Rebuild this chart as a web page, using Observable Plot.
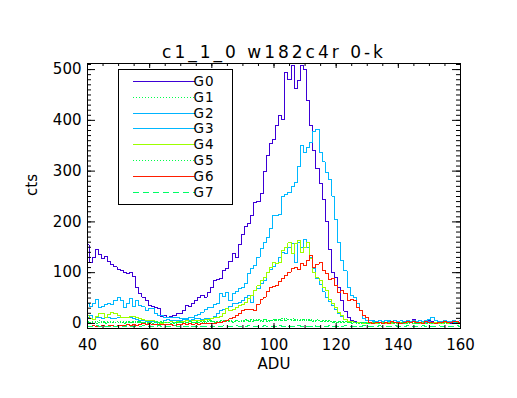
<!DOCTYPE html>
<html><head><meta charset="utf-8">
<script src="https://cdn.jsdelivr.net/npm/d3@7"></script>
<script src="https://cdn.jsdelivr.net/npm/@observablehq/plot@0.6"></script>
<style>
html,body{margin:0;padding:0;background:#fff;}
#chart svg{display:block;}
</style></head><body><div id="chart"></div>
<script>
const title = "c1_1_0 w182c4r 0-k";
const xLabel = "ADU";
const yLabel = "cts";
const xTicks = [40, 60, 80, 100, 120, 140, 160];
const yTicks = [0, 100, 200, 300, 400, 500];
const seriesNames = ["G0", "G1", "G2", "G3", "G4", "G5", "G6", "G7"];

const adu = [40,41,42,43,44,45,46,47,48,49,50,51,52,53,54,55,56,57,58,59,
60,61,62,63,64,65,66,67,68,69,70,71,72,73,74,75,76,77,78,79,
80,81,82,83,84,85,86,87,88,89,90,91,92,93,94,95,96,97,98,99,
100,101,102,103,104,105,106,107,108,109,110,111,112,113,114,115,116,117,118,119,
120,121,122,123,124,125,126,127,128,129,130,131,132,133,134,135,136,137,138,139,
140,141,142,143,144,145,146,147,148,149,150,151,152,153,154,155,156,157,158,159,160];

const g0 = [155,120,130,145,135,128,132,122,116,112,
106,104,100,98,100,92,70,58,52,45,
36,33,31,30,14,15,11,14,16,19,
20,25,35,33,40,46,52,55,52,60,
70,84,86,88,104,108,122,137,130,155,
175,190,196,212,238,240,255,300,330,355,
362,390,410,402,495,480,508,462,478,508,
500,440,390,340,305,275,245,200,145,100,
90,70,45,24,12,6,3,2,1,0,
1,0,-1,2,1,0,2,1,3,1,
0,2,1,3,2,8,2,1,3,2,
5,3,1,2,0,1,2,0,1,2,1];

const g1 = [2,1,3,0,2,4,1,3,2,1,
3,2,0,4,1,2,3,1,2,0,
1,3,2,0,1,2,1,3,0,2,
1,0,2,3,1,2,4,2,3,5,
3,4,2,5,3,6,4,3,5,4,
6,5,4,7,5,6,4,8,5,6,
7,5,8,6,9,7,5,8,6,7,
5,8,6,4,7,5,3,6,4,2,
3,2,4,1,2,0,1,2,0,1,
0,1,2,0,1,0,2,1,0,1,
2,0,1,0,1,2,0,1,0,1,
0,1,2,0,1,0,1,0,1,0,1];

const g2 = [12,15,8,11,11,9,11,11,9,10,
11,11,12,12,11,9,7,6,5,4,
4,3,2,1,0,5,7,5,6,5,
6,7,7,6,8,9,9,8,9,9,
10,14,20,25,27,29,33,39,40,41,
45,52,55,42,64,68,78,85,101,106,
112,118,130,140,137,150,157,120,159,150,
166,150,130,108,88,76,62,52,44,36,
28,20,13,8,4,3,2,2,1,1,
2,1,3,2,1,2,1,3,2,1,
2,1,2,3,1,4,2,1,2,1,
3,2,1,2,1,2,1,3,2,1,2];

const g3 = [39,33,39,47,31,33,37,39,38,45,
52,45,31,39,49,33,45,36,33,25,
29,29,19,15,15,11,11,12,11,11,
10,9,9,11,11,15,18,22,27,32,
32,37,40,59,53,61,45,59,62,68,
71,78,98,108,114,130,147,160,169,186,
212,212,215,250,254,258,270,278,310,350,
337,346,356,378,382,336,318,298,284,251,
205,160,124,104,70,55,52,40,25,10,
6,5,5,4,5,4,5,6,4,5,
4,5,3,5,4,6,4,5,3,6,
8,12,6,4,3,5,4,3,5,4,5];

const g4 = [15,10,8,14,19,20,12,18,22,20,
15,12,11,12,14,13,12,10,7,6,
5,5,3,2,0,1,2,3,2,3,
3,4,5,4,5,5,6,6,7,7,
9,11,12,14,20,29,25,28,32,35,
38,41,49,55,65,74,85,91,101,110,
120,118,120,143,150,159,137,157,163,140,
150,159,127,101,90,84,70,65,48,40,
32,22,15,8,3,3,2,1,1,0,
1,0,1,0,2,1,0,1,0,1,
0,1,0,2,1,0,1,0,1,0,
1,0,1,0,0,1,0,1,0,1,0];

const g5 = [4,2,1,3,5,2,0,2,3,1,
1,3,2,1,2,4,2,3,1,2,
2,0,3,1,3,1,2,0,2,1,
3,2,1,4,2,3,1,3,2,4,
5,2,4,3,6,4,5,2,6,3,
4,7,5,3,6,8,5,7,4,6,
5,8,6,10,6,8,9,6,7,5,
8,6,7,5,6,4,6,3,5,3,
2,4,2,3,1,2,1,0,2,1,
1,0,1,2,0,1,1,0,2,0,
1,2,0,1,1,0,2,0,1,0,
1,0,0,2,0,1,0,1,0,1,0];

const g6 = [-6,-6,-5,-6,-6,-5,-6,-5,-5,-6,
-4,-5,-4,-3,-4,-3,-4,-2,0,-2,
-1,-2,-3,-2,-3,-2,-3,-2,-4,-3,
-2,-1,-2,-1,-2,-1,-2,0,-1,0,
0,-1,1,2,4,6,9,12,15,20,
25,27,27,28,26,38,48,52,62,70,
73,74,82,88,94,101,108,110,107,118,
114,124,133,110,117,120,104,98,86,88,
74,61,64,59,45,48,45,32,25,15,
12,2,0,2,1,-1,2,0,3,1,
2,0,1,3,1,4,1,2,0,3,
2,1,0,2,1,3,1,2,4,3,2];

const g7 = [-6,-7,-6,-5,-6,-7,-6,-6,-5,-7,
-6,-6,-7,-5,-6,-6,-7,-6,-5,-6,
-7,-6,-6,-5,-7,-6,-6,-7,-5,-6,
-6,-7,-6,-5,-6,-6,-7,-6,-6,-5,
-6,-7,-6,-6,-5,-6,-7,-6,-5,-6,
-6,-7,-5,-6,-6,-7,-6,-5,-6,-6,
-7,-6,-5,-6,-6,-7,-6,-6,-5,-6,
-7,-6,-6,-5,-6,-7,-6,-6,-5,-6,
-6,-7,-6,-5,-6,-6,-7,-6,-6,-5,
-6,-7,-6,-6,-5,-6,-7,-6,-6,-5,
-6,-6,-7,-5,-6,-6,-7,-6,-5,-6,
-6,-7,-6,-5,-6,-6,-7,-6,-6,-5,-6];

const seriesValues = [g0, g1, g2, g3, g4, g5, g6, g7];
const seriesColors = ["#3d00d6", "#00ff4a", "#00b4ff", "#00b8ff", "#9cff00", "#00ff4a", "#ff1e00", "#00ff66"];
const seriesDash = [null, "1,2", null, null, null, "1,2", null, "6,4"];

const W = 517, H = 398;
const margin = {top: 63, right: 57, bottom: 70, left: 87};
const innerW = W - margin.left - margin.right;
const innerH = H - margin.top - margin.bottom;
const xMinor = d3.range(40, 161, 5);
const yMinor = d3.range(-10, 512, 10);
const majorX = 5, minorX = 3, majorY = 8, minorY = 4;

const lineMarks = seriesValues.map((vals, s) =>
  Plot.line(adu.map((x, i) => ({x, y: vals[i]})), {
    x: "x", y: "y", curve: "step",
    stroke: seriesColors[s], strokeWidth: 1,
    strokeDasharray: seriesDash[s] || undefined,
    clip: true
  })
);

const plot = Plot.plot({
  width: W, height: H,
  marginTop: margin.top, marginRight: margin.right, marginBottom: margin.bottom, marginLeft: margin.left,
  x: {domain: [40, 160]},
  y: {domain: [-10, 512]},
  style: {fontFamily: "'DejaVu Sans', sans-serif", fontSize: "15px", background: "white", color: "black"},
  marks: [
    ...lineMarks,
    Plot.ruleX(xTicks, {x: d => d, insetTop: innerH - majorX, stroke: "black"}),
    Plot.ruleX(xMinor, {x: d => d, insetTop: innerH - minorX, stroke: "black"}),
    Plot.ruleX(xTicks, {x: d => d, insetBottom: innerH - majorX, stroke: "black"}),
    Plot.ruleX(xMinor, {x: d => d, insetBottom: innerH - minorX, stroke: "black"}),
    Plot.ruleY(yTicks, {y: d => d, insetRight: innerW - majorY, stroke: "black"}),
    Plot.ruleY(yMinor, {y: d => d, insetRight: innerW - minorY, stroke: "black"}),
    Plot.ruleY(yTicks, {y: d => d, insetLeft: innerW - majorY, stroke: "black"}),
    Plot.ruleY(yMinor, {y: d => d, insetLeft: innerW - minorY, stroke: "black"}),
    Plot.frame({stroke: "black"}),
    Plot.axisX(xTicks, {anchor: "bottom", tickSize: 0, tickPadding: 11, fontSize: 15, label: null}),
    Plot.axisY(yTicks, {anchor: "left", tickSize: 0, tickPadding: 6, fontSize: 15, label: null}),
    Plot.text([xLabel], {frameAnchor: "bottom", dy: 40, fontSize: 15, text: d => d}),
    Plot.text([yLabel], {frameAnchor: "left", dx: -55, rotate: -90, fontSize: 15, text: d => d}),
    Plot.text([title], {frameAnchor: "top", dy: -18, fontSize: 17, text: d => d})
  ]
});

document.getElementById("chart").appendChild(plot);

const svg = d3.select(plot);
svg.selectAll("text").filter(function() { return this.textContent === title; })
  .style("letter-spacing", "3px");
svg.selectAll("g[aria-label='line'] path").attr("shape-rendering", "crispEdges");

// legend
const lg = svg.append("g").attr("font-family", "'DejaVu Sans', sans-serif").attr("font-size", 13.5);
lg.append("rect").attr("x", 118.5).attr("y", 69.5).attr("width", 114).attr("height", 135)
  .attr("fill", "white").attr("stroke", "black").attr("stroke-width", 1);
seriesNames.forEach((name, i) => {
  const yy = Math.round(81 + i * 15.8) + 0.5;
  lg.append("line").attr("x1", 133).attr("x2", 195).attr("y1", yy).attr("y2", yy)
    .attr("stroke", seriesColors[i]).attr("stroke-width", 1)
    .attr("stroke-dasharray", seriesDash[i]);
  lg.append("text").attr("x", 204).attr("y", yy).attr("dy", "0.35em").attr("fill", "black")
    .style("letter-spacing", "1px").text(name);
});
</script>
</body></html>
